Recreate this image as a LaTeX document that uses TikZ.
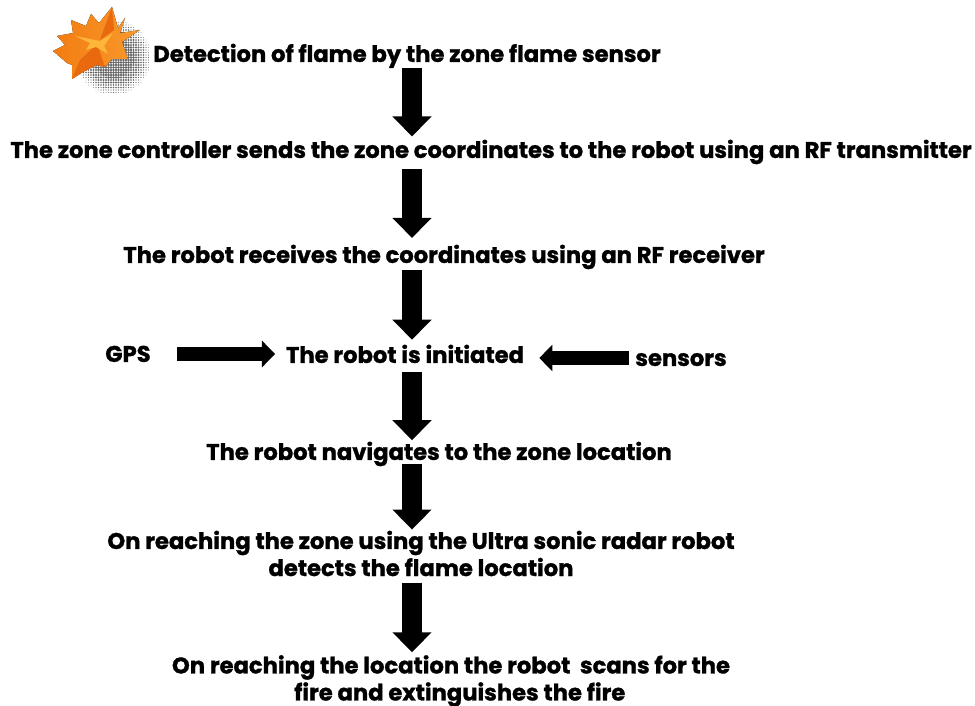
\documentclass[tikz,border=0pt]{standalone}
\usepackage{tikz}
\usetikzlibrary{arrows.meta}
\usepackage{fontspec}
\setmainfont{Poppins}[BoldFeatures={FakeBold=1.2}]
\usepackage{xcolor}
\definecolor{flamedark}{HTML}{F27C12}
\definecolor{flamelight}{HTML}{F99A2C}
\definecolor{flamehot}{HTML}{FDB53A}
\definecolor{flamedeep}{HTML}{E9690E}

\begin{document}
\begin{tikzpicture}[x=0.02cm, y=-0.02cm,
          t/.style={font=\bfseries\fontsize{12.9}{15.4}\selectfont, text=black, align=center, inner sep=0pt},
          one/.style={t, text height=10pt, text depth=1pt},
          dn/.style={line width=11.4pt, -{Triangle[length=11.4pt, width=21.6pt]}},
          hz/.style={line width=8pt, -{Triangle[length=7.5pt, width=14.8pt]}}]
        \useasboundingbox (0,0) rectangle (975,706);
        % halftone shadow behind the flame
        \foreach \i in {0,...,30} {
          \foreach \j in {0,...,30} {
            \pgfmathsetmacro{\dd}{sqrt((\i-15)^2+(\j-15)^2)/15}
            \ifdim \dd pt<1pt
              \pgfmathsetmacro{\rr}{1.15*(1-\dd^3)+0.3}
              \fill[black!60] (76+2.5*\i,20+2.5*\j) circle (\rr);
            \fi
          }
        }
        % flame
        \fill[left color=flamedark, right color=flamelight]
          (112,7)--(118,28)--(125,18)--(120,33)--(140,30)--(122,42)--(128,59)--(112,59)--(105,67)--(97,65)--(83,72)--(72,79)--(72,65)--(67,63)--(53,51)--(65,45)--(57,36)--(73,33)--(71,20)--(86,26)--(91,14)--(99,23)--cycle;
        \fill[flamedeep] (97,44)--(105,67)--(97,65)--(83,72)--(72,79)--(80,60)--cycle;
        \fill[flamedeep] (100,40)--(112,7)--(114,30)--cycle;
        \fill[flamehot] (75,36)--(100,41)--(113,33)--(104,46)--(108,54)--(96,47)--(86,50)--(90,43)--cycle;
        % text
        \node[one] (flame) at (407,54) {Detection of flame by the zone flame sensor};
        \node[one] (ctrl) at (491,150) {The zone controller sends the zone coordinates to the robot using an RF transmitter};
        \node[one] (recv) at (444,255) {The robot receives the coordinates using an RF receiver};
        \node[one] (init) at (405,355) {The robot is initiated};
        \node[one] (gps) at (128,354) {GPS};
        \node[one] (sens) at (681,358) {sensors};
        \node[one] (nav) at (439,452) {The robot navigates to the zone location};
        \node[t] (reach) at (421,553.5) {On reaching the zone using the Ultra sonic radar robot\\detects the flame location};
        \node[t] (scan) at (451,681) {On reaching the location the robot~ scans for the\\\hspace*{10pt}fire and extinguishes the fire};
        \coordinate (spine) at (412,0);
        % arrows
        \draw[dn, shorten <=2pt, shorten >=2pt] (flame.south -| spine) -- (ctrl.north -| spine);
        \draw[dn, shorten <=5pt, shorten >=4pt] (ctrl.south -| spine) -- (recv.north -| spine);
        \draw[dn, shorten <=3pt, shorten >=3pt] (recv.south -| spine) -- (init.north -| spine);
        \draw[dn, shorten <=4pt, shorten >=1pt] (init.south -| spine) -- (nav.north -| spine);
        \draw[dn, shorten <=1pt, shorten >=.5pt] (nav.south -| spine) -- (reach.north -| spine);
        \draw[dn, shorten <=3.5pt, shorten >=1.5pt] (reach.south -| spine) -- (scan.north -| spine);
        \draw[hz, shorten <=14.8pt, shorten >=6pt] (gps.east) -- (gps.east -| init.west);
        \draw[hz, shorten <=3.4pt, shorten >=8.5pt] (sens.west) -- (sens.west -| init.east);
      \end{tikzpicture}
\end{document}
